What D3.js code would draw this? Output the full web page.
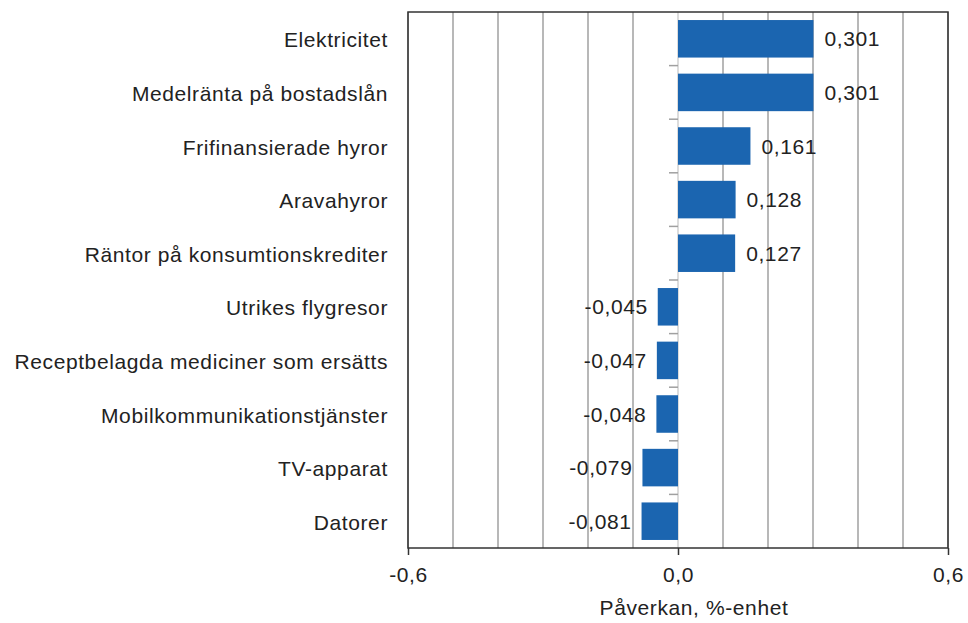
<!DOCTYPE html>
<html lang="sv">
<head>
<meta charset="UTF-8">
<title>Påverkan, %-enhet</title>
<style>
  body { margin: 0; background: #fff; }
  text { font-family: "Liberation Sans", Arial, sans-serif; fill: #222; letter-spacing: 0.6px; }
  .grid line { stroke: #a0a0a0; stroke-width: 1.5; }
</style>
</head>
<body>
<script src="https://d3js.org/d3.v7.min.js"></script>
<script>
var categories = ['Elektricitet', 'Medelränta på bostadslån', 'Frifinansierade hyror', 'Aravahyror',
  'Räntor på konsumtionskrediter', 'Utrikes flygresor', 'Receptbelagda mediciner som ersätts',
  'Mobilkommunikationstjänster', 'TV-apparat', 'Datorer'];
var values = [0.301, 0.301, 0.161, 0.128, 0.127, -0.045, -0.047, -0.048, -0.079, -0.081];
var tickValues = [-0.6, 0, 0.6];
var gridValues = d3.range(-6, 7).map(function (d) { return d / 10; });

var width = 968, height = 623;
var margin = { top: 12, right: 20, bottom: 75, left: 408 };
var fontSize = '21px';

var svg = d3.select('body').append('svg')
  .attr('width', width)
  .attr('height', height);

var x = d3.scaleLinear().domain([-0.6, 0.6]).range([margin.left, width - margin.right]);
var y = d3.scaleBand().domain(categories).range([margin.top, height - margin.bottom]).paddingInner(0.3).paddingOuter(0.15);

var fmt = function (v) { return v.toFixed(3).replace('.', ','); };

// gridlines
svg.append('g').attr('class', 'grid')
  .selectAll('line')
  .data(gridValues.filter(function (d) { return d !== 0; }))
  .enter().append('line')
  .attr('x1', function (d) { return x(d); })
  .attr('x2', function (d) { return x(d); })
  .attr('y1', margin.top)
  .attr('y2', height - margin.bottom);

// zero line
svg.append('line')
  .attr('x1', x(0)).attr('x2', x(0))
  .attr('y1', margin.top).attr('y2', height - margin.bottom)
  .attr('stroke', '#d0d0d0').attr('stroke-width', 1.5);

// category ticks on zero line
var bounds = categories.slice(1).map(function (c) { return y(c) - y.step() * y.paddingInner() / 2; });
svg.append('g').selectAll('line')
  .data(bounds)
  .enter().append('line')
  .attr('x1', x(0) - 9).attr('x2', x(0))
  .attr('y1', function (d) { return d; }).attr('y2', function (d) { return d; })
  .attr('stroke', '#a0a0a0').attr('stroke-width', 1.5);

// bars
svg.append('g').selectAll('rect')
  .data(values)
  .enter().append('rect')
  .attr('x', function (d) { return x(Math.min(0, d)); })
  .attr('width', function (d) { return Math.abs(x(d) - x(0)); })
  .attr('y', function (d, i) { return y(categories[i]); })
  .attr('height', y.bandwidth())
  .attr('fill', '#1b65b0');

// value labels
svg.append('g').selectAll('text')
  .data(values)
  .enter().append('text')
  .attr('x', function (d) { return d >= 0 ? x(d) + 11 : x(d) - 10; })
  .attr('y', function (d, i) { return y(categories[i]) + y.bandwidth() / 2; })
  .attr('dy', '0.36em')
  .attr('text-anchor', function (d) { return d >= 0 ? 'start' : 'end'; })
  .style('font-size', fontSize)
  .text(fmt);

// category labels
svg.append('g').selectAll('text')
  .data(categories)
  .enter().append('text')
  .attr('x', 388)
  .attr('y', function (d) { return y(d) + y.bandwidth() / 2 + 1; })
  .attr('dy', '0.36em')
  .attr('text-anchor', 'end')
  .style('font-size', fontSize)
  .text(function (d) { return d; });

// frame
svg.append('rect')
  .attr('x', margin.left).attr('y', margin.top)
  .attr('width', x(0.6) - x(-0.6)).attr('height', height - margin.bottom - margin.top)
  .attr('fill', 'none').attr('stroke', '#333').attr('stroke-width', 1.5);

// x axis
var xAxis = svg.append('g')
  .attr('transform', 'translate(0,' + (height - margin.bottom) + ')')
  .call(d3.axisBottom(x).tickValues(tickValues).tickSize(7).tickPadding(12)
    .tickFormat(function (d) { return d.toFixed(1).replace('.', ','); }));
xAxis.select('.domain').remove();
xAxis.selectAll('line').attr('stroke', '#333').attr('stroke-width', 1.5);
xAxis.selectAll('text').style('font-size', fontSize).attr('fill', '#222')
  .style('font-family', '"Liberation Sans", Arial, sans-serif');

svg.append('text')
  .attr('x', 694).attr('y', 615)
  .attr('text-anchor', 'middle')
  .style('font-size', fontSize)
  .text('Påverkan, %-enhet');
</script>
</body>
</html>
